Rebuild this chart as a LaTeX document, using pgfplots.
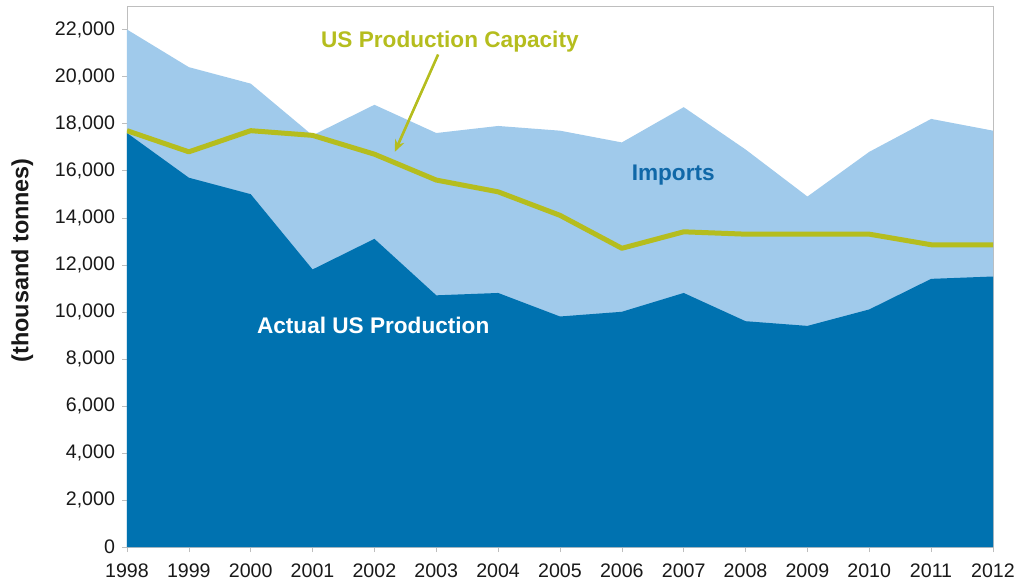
\documentclass[border=0pt]{standalone}
\usepackage{fontspec}
\setmainfont{Liberation Sans}
\usepackage{pgfplots}
\pgfplotsset{compat=1.18}
\usetikzlibrary{arrows.meta}
\definecolor{prodblue}{RGB}{0,114,176}
\definecolor{impblue}{RGB}{160,202,235}
\definecolor{capgreen}{RGB}{181,189,30}
\definecolor{labelblue}{RGB}{16,104,168}
\definecolor{axisgray}{RGB}{190,190,190}

\pgfplotstableread{
year prod total cap
1998 17600 22000 17700
1999 15700 20400 16800
2000 15000 19700 17700
2001 11800 17500 17500
2002 13100 18800 16700
2003 10700 17600 15600
2004 10800 17900 15100
2005 9800 17700 14100
2006 10000 17200 12700
2007 10800 18700 13400
2008 9600 16900 13300
2009 9400 14900 13300
2010 10100 16800 13300
2011 11400 18200 12850
2012 11500 17700 12850
}\datatable

\begin{document}
\begin{tikzpicture}
\begin{axis}[
    scale only axis,
    width=433pt, height=270.5pt,
    xmin=1998, xmax=2012,
    ymin=0, ymax=23000,
    xtick={1998,1999,...,2012},
    ytick={0,2000,...,22000},
    scaled y ticks=false,
    tick pos=left,
    tick align=outside,
    major tick length=2.5pt,
    axis line style={axisgray},
    tick style={axisgray},
    every tick label/.append style={font=\fontsize{9.8}{11}\selectfont, text=black!90},
    /pgf/number format/assume math mode=true,
    x tick label style={/pgf/number format/1000 sep={}, yshift=-2.5pt},
    y tick label style={/pgf/number format/1000 sep={,}, /pgf/number format/fixed},
    clip mode=individual,
]
\addplot[draw=none, fill=impblue] table[x=year, y=total] {\datatable} \closedcycle;
\addplot[draw=none, fill=prodblue] table[x=year, y=prod] {\datatable} \closedcycle;
\addplot[capgreen, line width=2.5pt, line join=round] table[x=year, y=cap] {\datatable};

\node[font=\bfseries\fontsize{11.3}{13}\selectfont, text=capgreen] at (axis cs:2003.22,21490) {US Production Capacity};
\draw[capgreen, line width=1.3pt, -{Stealth[length=6pt,width=5pt]}] (axis cs:2003.03,20940) -- (axis cs:2002.33,16800);
\node[font=\bfseries\fontsize{11.3}{13}\selectfont, text=labelblue] at (axis cs:2006.83,15830) {Imports};
\node[font=\bfseries\fontsize{11.3}{13}\selectfont, text=white] at (axis cs:2001.98,9400) {Actual US Production};
\node[rotate=90, font=\bfseries\fontsize{11.7}{13}\selectfont, text=black!90] at (rel axis cs:-0.121,0.53) {(thousand tonnes)};
\end{axis}
\pgfresetboundingbox
\path[use as bounding box] (-63.5pt,-19.5pt) rectangle (445.5pt,273.5pt);
\end{tikzpicture}
\end{document}
